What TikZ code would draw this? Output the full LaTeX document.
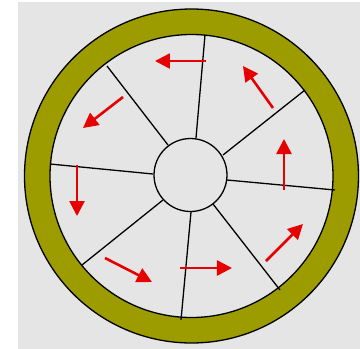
\documentclass[tikz,border=0pt]{standalone}
\usetikzlibrary{arrows.meta}
\definecolor{bggray}{RGB}{229,229,229}
\definecolor{olive}{RGB}{156,156,0}
\definecolor{arrowred}{RGB}{230,0,0}
\tikzset{
  spoke/.style={draw=black,line width=1.3pt},
  rim/.style={draw=black,line width=1.3pt},
  flow/.style={draw=arrowred,line width=2.6pt,-{Triangle[length=15pt,width=15pt]}}
}
\begin{document}
\begin{tikzpicture}[x=1pt,y=-1pt]
\useasboundingbox (0,0) rectangle (360,349);
\fill[bggray] (18,2) rectangle (360,349);
\coordinate (c) at (191.5,176);
% outer ring
\fill[olive,even odd rule] (c) circle (167) (c) circle (141.5);
\draw[rim] (c) circle (167);
\draw[rim,fill=bggray] (c) circle (141.5);
% hub
\node[circle,draw=black,line width=1.3pt,fill=bggray,minimum size=73pt,inner sep=0pt] (hub) at (190.5,175) {};
% spokes
\foreach \i/\rx/\ry/\hx/\hy in {1/205/35/196/138, 2/305/90/223/155, 3/335/190/227/180, 4/280/290/213/204, 5/181/320/191/212, 6/82/265/163/200, 7/50/164/153/174, 8/107/66/168/145}{
  \coordinate (r\i) at (\rx,\ry);
  \coordinate (h\i) at (\hx,\hy);
  \draw[spoke] (h\i) -- (r\i);
}
% arrows
\foreach \i/\ax/\ay/\bx/\by in {1/206/61/155/61, 2/123/97/83/128, 3/77/165/77/216, 4/105/258/152/282, 5/180/268/232/268, 6/266/261/303/224, 7/284/190/284/139, 8/273/108/243/66}{
  \coordinate (a\i) at (\ax,\ay);
  \coordinate (b\i) at (\bx,\by);
  \draw[flow] (a\i) -- (b\i);
}
\end{tikzpicture}
\end{document}
